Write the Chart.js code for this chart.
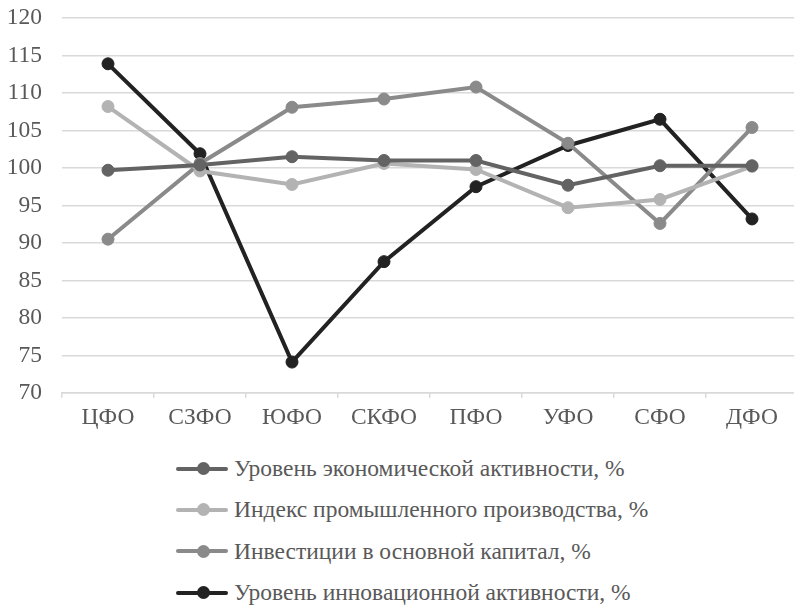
<!DOCTYPE html>
<html>
<head>
<meta charset="utf-8">
<script src="https://cdn.jsdelivr.net/npm/chart.js@4.4.1/dist/chart.umd.min.js"></script>
<style>
  html, body { margin: 0; padding: 0; background: #fff; }
  #wrap { width: 794px; height: 605px; overflow: hidden; position: relative; }
  #box { position: absolute; left: 0; top: -16px; width: 805px; height: 454px; }
  #legend { position: absolute; left: 176px; top: 448px; font-family: "Liberation Serif", serif; font-size: 23.5px; color: #595959; }
  .item { display: flex; align-items: center; height: 41.3px; }
  .mark { position: relative; width: 52px; height: 13px; margin-right: 6px; }
  .mark .ln { position: absolute; left: 0; right: 0; top: 4.5px; height: 4px; border-radius: 2px; }
  .mark .dot { position: absolute; left: 20.5px; top: 0; width: 13px; height: 13px; border-radius: 50%; }
</style>
</head>
<body>
<div id="wrap">
  <div id="box"><canvas id="lineChart"></canvas></div>
  <div id="legend"></div>
</div>
<script>
// Данные
const regions = ['ЦФО', 'СЗФО', 'ЮФО', 'СКФО', 'ПФО', 'УФО', 'СФО', 'ДФО'];
const econActivity = [99.7, 100.4, 101.5, 101.0, 101.0, 97.7, 100.3, 100.3];
const industryIndex = [108.2, 99.6, 97.8, 100.6, 99.8, 94.7, 95.8, 100.2];
const investments = [90.5, 100.6, 108.1, 109.2, 110.8, 103.3, 92.6, 105.4];
const innovActivity = [113.9, 101.9, 74.1, 87.5, 97.5, 103.0, 106.5, 93.2];
const seriesNames = [
    'Уровень экономической активности, %',
    'Индекс промышленного производства, %',
    'Инвестиции в основной капитал, %',
    'Уровень инновационной активности, %'
];
const colors = ['#636363', '#b3b3b3', '#8a8a8a', '#222222'];

function makeSet(i, values) {
    return {
        label: seriesNames[i],
        data: values,
        borderColor: colors[i],
        backgroundColor: colors[i],
        borderWidth: 4,
        pointRadius: 6,
        pointBorderWidth: 1,
        pointBorderColor: colors[i],
        pointBackgroundColor: colors[i],
        tension: 0
    };
}

const tickFont = { family: '"Liberation Serif", serif', size: 23.5 };

const ctx = document.getElementById('lineChart').getContext('2d');
const chart = new Chart(ctx, {
    type: 'line',
    data: {
        labels: regions,
        datasets: [
            makeSet(0, econActivity),
            makeSet(1, industryIndex),
            makeSet(2, investments),
            makeSet(3, innovActivity)
        ]
    },
    options: {
        responsive: true,
        maintainAspectRatio: false,
        animation: false,
        layout: { padding: { top: 0, left: 8, right: 0, bottom: 0 } },
        plugins: {
            legend: { display: false },
            tooltip: { enabled: false }
        },
        scales: {
            x: {
                offset: true,
                grid: {
                    offset: true,
                    drawOnChartArea: false,
                    drawTicks: true,
                    tickLength: 5,
                    color: '#d9d9d9',
                    lineWidth: 1.5
                },
                border: { color: '#d9d9d9', width: 1.5 },
                ticks: {
                    color: '#595959',
                    font: tickFont,
                    padding: 6
                }
            },
            y: {
                min: 70,
                max: 120,
                afterFit: axis => { axis.width = 54; },
                ticks: {
                    stepSize: 5,
                    color: '#595959',
                    font: tickFont,
                    padding: 20
                },
                grid: { color: '#d9d9d9', lineWidth: 1.5, drawTicks: false },
                border: { display: false }
            }
        }
    }
});

// Легенда
const legendEl = document.getElementById('legend');
chart.data.datasets.forEach(ds => {
    const item = document.createElement('div');
    item.className = 'item';
    item.innerHTML = '<span class="mark"><span class="ln" style="background:' + ds.borderColor +
        '"></span><span class="dot" style="background:' + ds.borderColor + '"></span></span>' +
        '<span>' + ds.label + '</span>';
    legendEl.appendChild(item);
});
</script>
</body>
</html>
